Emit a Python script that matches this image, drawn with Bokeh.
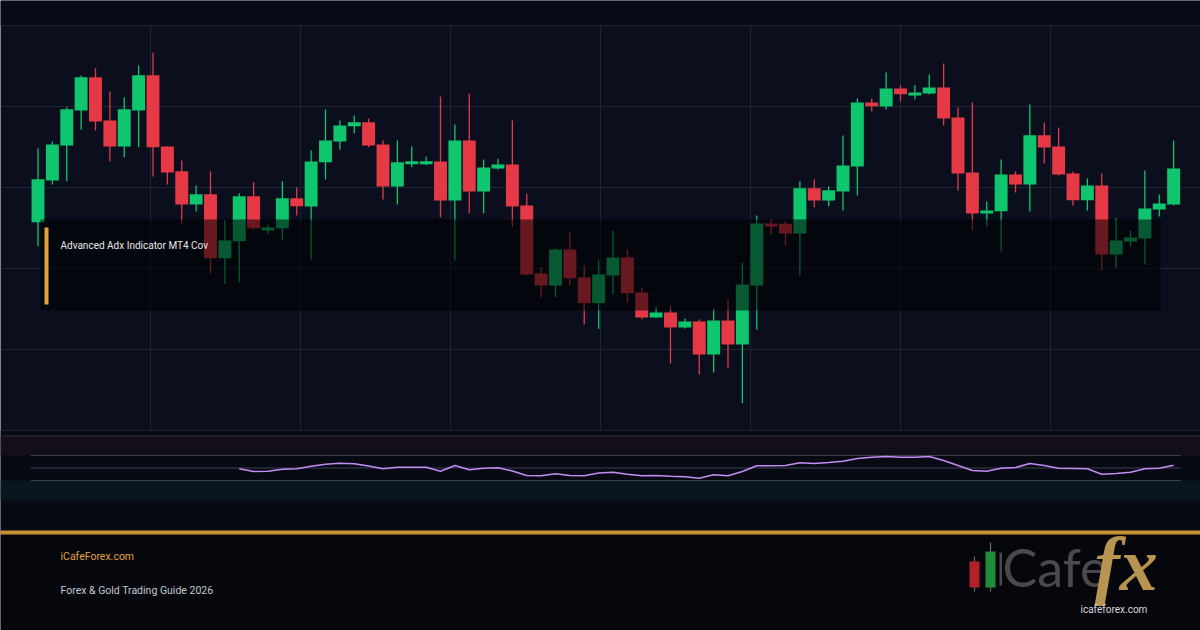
from bokeh.plotting import figure
from bokeh.models import Range1d, ColumnDataSource
from bokeh.core.properties import value
from bokeh.embed import file_html
from bokeh.resources import INLINE

# ---------------- data ----------------
candle_idx = list(range(80))
open_ = [2375.72, 2380.86, 2385.19, 2389.51, 2393.62, 2388.27, 2385.06, 2389.51, 2393.86, 2385.06,
         2382.01, 2377.90, 2379.17, 2371.27, 2373.37, 2378.93, 2374.69, 2374.98, 2378.68, 2377.65,
         2383.12, 2385.68, 2387.57, 2388.06, 2385.31, 2380.12, 2382.88, 2382.88, 2383.21, 2378.40,
         2385.80, 2379.51, 2382.35, 2382.84, 2377.78, 2369.38, 2367.90, 2372.35, 2368.89, 2365.72,
         2369.14, 2371.36, 2367.04, 2363.95, 2364.57, 2362.72, 2363.46, 2359.38, 2363.58, 2360.62,
         2367.90, 2375.56, 2375.52, 2374.32, 2379.91, 2378.40, 2379.51, 2382.59, 2390.49, 2390.00,
         2392.22, 2391.36, 2391.60, 2392.35, 2388.64, 2381.85, 2376.79, 2377.07, 2381.60, 2380.37,
         2386.46, 2385.06, 2381.73, 2378.43, 2380.25, 2371.73, 2373.33, 2373.70, 2377.28, 2377.90]
high = [2384.85, 2385.68, 2389.91, 2393.83, 2394.73, 2391.85, 2391.15, 2395.06, 2396.63, 2385.10,
        2383.33, 2380.25, 2381.98, 2375.93, 2379.30, 2380.65, 2375.40, 2380.78, 2380.04, 2384.57,
        2389.63, 2388.27, 2388.89, 2388.52, 2385.80, 2385.80, 2385.06, 2383.83, 2391.23, 2387.78,
        2391.57, 2383.46, 2383.54, 2388.27, 2379.22, 2370.16, 2372.47, 2374.41, 2370.37, 2370.99,
        2374.69, 2372.35, 2367.62, 2365.31, 2365.40, 2363.83, 2363.70, 2365.06, 2366.17, 2370.74,
        2376.54, 2376.05, 2375.80, 2380.78, 2381.02, 2380.12, 2386.42, 2390.99, 2390.99, 2394.20,
        2392.63, 2392.63, 2393.95, 2395.31, 2389.88, 2390.49, 2378.27, 2383.46, 2382.01, 2390.25,
        2388.02, 2387.41, 2381.98, 2381.11, 2381.73, 2376.17, 2374.69, 2382.10, 2379.14, 2385.80]
low = [2372.75, 2380.37, 2380.78, 2387.12, 2387.04, 2383.25, 2383.74, 2384.98, 2381.36, 2380.37,
       2375.52, 2377.04, 2369.42, 2368.11, 2368.31, 2374.78, 2374.28, 2373.58, 2376.54, 2371.11,
       2380.99, 2384.69, 2386.70, 2384.98, 2378.52, 2377.90, 2382.51, 2382.78, 2376.33, 2370.99,
       2376.83, 2376.83, 2382.22, 2375.10, 2369.14, 2366.46, 2366.46, 2367.90, 2363.09, 2362.56,
       2366.79, 2365.80, 2363.74, 2363.89, 2358.27, 2362.59, 2356.91, 2357.16, 2357.65, 2353.37,
       2362.47, 2374.20, 2372.84, 2369.14, 2377.57, 2377.69, 2377.16, 2379.01, 2389.38, 2389.63,
       2390.62, 2390.86, 2391.48, 2387.65, 2379.63, 2374.69, 2375.19, 2372.10, 2379.38, 2377.04,
       2382.96, 2381.48, 2377.78, 2377.16, 2369.84, 2370.09, 2372.72, 2370.49, 2376.42, 2377.78]
close = [2381.02, 2385.31, 2389.67, 2393.62, 2388.15, 2385.06, 2389.67, 2393.86, 2384.98, 2381.85,
         2377.90, 2379.17, 2371.27, 2373.46, 2378.93, 2374.98, 2375.06, 2378.68, 2377.69, 2383.21,
         2385.80, 2387.65, 2388.06, 2385.19, 2380.12, 2383.12, 2383.25, 2383.25, 2378.40, 2385.80,
         2379.51, 2382.47, 2382.84, 2377.65, 2369.26, 2367.90, 2372.35, 2368.80, 2365.72, 2369.26,
         2371.36, 2366.95, 2363.95, 2364.57, 2362.72, 2363.46, 2359.38, 2363.58, 2360.62, 2368.02,
         2375.56, 2375.19, 2374.32, 2379.91, 2378.40, 2379.67, 2382.72, 2390.49, 2390.04, 2392.22,
         2391.52, 2391.73, 2392.35, 2388.52, 2381.73, 2376.79, 2377.16, 2381.60, 2380.37, 2386.46,
         2384.94, 2381.60, 2378.43, 2380.25, 2371.73, 2373.46, 2373.83, 2377.41, 2378.02, 2382.35]

adx_idx = list(range(14, 80))
adx = [38.7, 34.4, 34.9, 38.1, 38.7, 42.7, 46.1, 47.7, 46.9, 43.2,
       38.7, 41.1, 41.3, 41.1, 34.9, 44.0, 37.1, 39.7, 40.3, 35.2,
       28.0, 27.5, 30.7, 28.0, 27.5, 32.0, 33.3, 30.1, 27.7, 28.0,
       26.7, 25.9, 23.7, 29.1, 27.5, 34.4, 43.5, 43.5, 44.0, 48.3,
       47.2, 48.8, 50.9, 55.2, 57.3, 58.4, 57.3, 57.1, 58.4, 52.0,
       44.0, 36.0, 34.9, 39.7, 40.8, 47.2, 44.0, 39.7, 39.2, 38.7,
       30.1, 31.2, 33.3, 38.7, 39.7, 44.5]
adx_levels = [20, 40, 60]
price_grid = [2350, 2360, 2370, 2380, 2390, 2400]

title_text = "Advanced Adx Indicator MT4 Cov"
site_text = "iCafeForex.com"
guide_text = "Forex & Gold Trading Guide 2026"

# ---------------- colours ----------------
BG = "#0b0f1d"
TOP_BG = "#080b15"
GRID = "#1f2435"
UP = "#0fc56d"
DOWN = "#e63946"
GOLD = "#c99232"

W, H = 1200, 630
X0, STEP = 37.5, 14.375          # pixel position of candle 0, pixels per candle
PY0, PPX = 430.0, 8.1            # pixel of price 2350, pixels per 1.0 price
AY0, APX = 467.5, 1.0 / 1.6      # pixel of ADX 40, pixels per ADX unit

p = figure(width=W, height=H, x_range=Range1d(0, W), y_range=Range1d(H, 0),
           output_backend="svg", toolbar_location=None, min_border=0,
           x_axis_type=None, y_axis_type=None)
p.outline_line_color = None
p.background_fill_color = BG
p.border_fill_color = BG
p.xgrid.visible = False
p.ygrid.visible = False
p.extra_x_ranges = {"idx": Range1d(-X0 / STEP, (W - X0) / STEP)}
p.extra_y_ranges = {
    "price": Range1d(2350 - (H - PY0) / PPX, 2350 + PY0 / PPX),
    "adx": Range1d(40 - (H - AY0) / APX, 40 + AY0 / APX),
}

# ---------------- background panels ----------------
p.quad(left=0, right=W, top=0, bottom=25, fill_color=TOP_BG, line_color=None)
p.quad(left=0, right=W, top=430, bottom=530, fill_color="#070a13", line_color=None)
p.quad(left=0, right=W, top=435.5, bottom=455, fill_color="#140e19", line_color=None)
p.quad(left=0, right=W, top=480, bottom=500, fill_color="#0a161d", line_color=None)
p.quad(left=0, right=W, top=534, bottom=H, fill_color="#05070d", line_color=None)
p.quad(left=0, right=W, top=530, bottom=534, fill_color=GOLD, line_color=None)
p.segment(x0=0, x1=W, y0=435.5, y1=435.5, line_color="#2a2f3e", line_width=1)

# ---------------- grid ----------------
p.segment(x0=[0] * len(price_grid), x1=[W] * len(price_grid), y0=price_grid, y1=price_grid,
          line_color=GRID, line_width=1, y_range_name="price")
vx = [150, 300, 450, 600, 750, 900, 1050]
p.segment(x0=vx, x1=vx, y0=[25] * len(vx), y1=[430] * len(vx), line_color=GRID, line_width=1)

# ---------------- candles ----------------
colors = [UP if c >= o else DOWN for o, c in zip(open_, close)]
src = ColumnDataSource(dict(
    idx=candle_idx, low=low, high=high,
    top=[max(o, c) for o, c in zip(open_, close)],
    bottom=[min(o, c) for o, c in zip(open_, close)],
    color=colors))
p.segment(x0="idx", y0="low", x1="idx", y1="high", line_color="color", line_width=1.3,
          source=src, x_range_name="idx", y_range_name="price")
p.vbar(x="idx", width=0.9, top="top", bottom="bottom", fill_color="color", line_color=None,
       source=src, x_range_name="idx", y_range_name="price")

# ---------------- label overlay ----------------
p.quad(left=40, right=1160, top=219, bottom=310, fill_color="#000000", fill_alpha=0.55, line_color=None)
p.quad(left=44, right=48, top=227, bottom=304, fill_color="#e0a03c", line_color=None)
p.text(x=[60], y=[245], text=[title_text], text_color="#e8e8ea", text_font=value("Roboto"),
       text_font_size="10px", text_baseline="middle", text_align="left")

# ---------------- ADX panel ----------------
p.segment(x0=[-0.5] * 3, x1=[79.5] * 3, y0=adx_levels, y1=adx_levels, line_color="#3b4051",
          line_width=1, x_range_name="idx", y_range_name="adx")
p.line(x=adx_idx, y=adx, line_color="#c48cf5", line_width=1.5, x_range_name="idx", y_range_name="adx")

# ---------------- footer ----------------
p.text(x=[60], y=[556], text=[site_text], text_color="#e0a040", text_font=value("Roboto"),
       text_font_size="10.5px", text_baseline="middle", text_align="left")
p.text(x=[60], y=[590], text=[guide_text], text_color="#c4c7ce", text_font=value("Roboto"),
       text_font_size="10.5px", text_baseline="middle", text_align="left")

# logo
p.segment(x0=[974, 990], x1=[974, 990], y0=[556, 542], y1=[591, 591], line_color="#6a6a6a", line_width=1.2)
p.quad(left=[969, 985], right=[979, 995], top=[561, 551], bottom=[587, 587],
       fill_color=["#b3202a", "#1f8d3c"], line_color=None)
p.quad(left=999, right=1001.5, top=552, bottom=585, fill_color="#4a4a4a", line_color=None)
p.text(x=[1002], y=[566], text=["Cafe"], text_color="#4a4a4a", text_font=value("Lato"),
       text_font_size="52px", text_baseline="middle", text_align="left")
p.text(x=[1094], y=[563], text=["fx"], text_color="#b99350", text_font=value("Liberation Serif"),
       text_font_size="76px", text_font_style="bold italic", text_baseline="middle", text_align="left")
p.text(x=[1080], y=[609], text=["icafeforex.com"], text_color="#d8d8d8", text_font=value("Roboto"),
       text_font_size="10px", text_baseline="middle", text_align="left")

open("out.html", "w").write(file_html(p, INLINE))
